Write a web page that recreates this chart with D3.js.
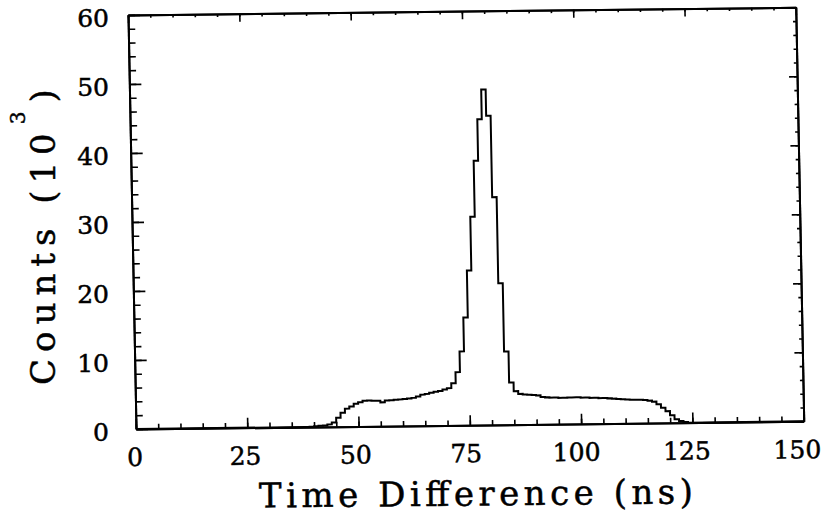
<!DOCTYPE html>
<html>
<head>
<meta charset="utf-8">
<script src="https://cdn.jsdelivr.net/npm/d3@7"></script>
<style>
  html, body { margin: 0; padding: 0; background: #fff; }
  svg { display: block; }
  text { font-family: "DejaVu Serif", "Liberation Serif", serif; fill: #000; stroke: #000; stroke-width: 0.5px; }
</style>
</head>
<body>
<svg id="chart" width="830" height="516"></svg>
<script>
// Time-difference histogram, 1 ns bins starting at binStart[i]; counts in units of 10^3
const binStart = d3.range(38, 125);
const binCounts = [
  0, 0.05, 0.1, 0.15, 0.2, 0.35, 0.6, 1.3, 2.0, 2.6,          // 38-47
  2.9, 3.3, 3.5, 3.7, 3.75, 3.7, 3.7, 3.45, 3.7, 3.75,        // 48-57
  3.8, 3.85, 3.9, 3.95, 4.05, 4.25, 4.5, 4.6, 4.75, 4.9,      // 58-67
  5.0, 5.2, 5.4, 6.1, 7.7, 10.7, 15.6, 22.4, 30.2, 38.3,      // 68-77
  44.3, 48.6, 44.8, 33.0, 20.5, 10.6, 6.1, 4.85, 4.45, 4.35,  // 78-87
  4.3, 4.25, 4.2, 3.95, 3.9, 3.85, 3.85, 3.8, 3.8, 3.85,      // 88-97
  3.85, 3.85, 3.8, 3.8, 3.75, 3.75, 3.7, 3.7, 3.65, 3.6,      // 98-107
  3.55, 3.5, 3.45, 3.4, 3.4, 3.4, 3.35, 3.25, 3.1, 2.7,       // 108-117
  2.2, 1.7, 1.1, 0.5, 0.25, 0.1, 0                            // 118-124
];
const xDomain = [0, 150];
const yDomain = [0, 60];
const xTicks = [0, 25, 50, 75, 100, 125, 150];
const yTicks = [0, 10, 20, 30, 40, 50, 60];
const xMinorStep = 5;
const yMinorStep = 2;
const xTitle = "Time Difference (ns)";
const yTitleParts = ["Counts (10", "3", ")"];

// Frame geometry: the plot box is slightly tilted/sheared on the page
const W = 668, H = 414;
const M = { a: 0.9996, b: -0.01153, c: 0.01932, d: 1, e: 128, f: 15 };
const toPage = (u, v) => [M.e + M.a * u + M.c * v, M.f + M.b * u + M.d * v];
const tilt = Math.atan2(M.b, M.a) * 180 / Math.PI;

const svg = d3.select("#chart");
const plot = svg.append("g")
  .attr("transform", `matrix(${M.a},${M.b},${M.c},${M.d},${M.e},${M.f})`);

const x = d3.scaleLinear().domain(xDomain).range([0, W]);
const y = d3.scaleLinear().domain(yDomain).range([H, 0]);

const xMinor = d3.range(xDomain[0], xDomain[1] + 0.001, xMinorStep);
const yMinor = d3.range(yDomain[0], yDomain[1] + 0.001, yMinorStep);

function styleAxis(sel) {
  sel.select(".domain").attr("stroke", "#000").attr("stroke-width", 2);
  sel.selectAll(".tick line").attr("stroke", "#000").attr("stroke-width", 1.6);
  sel.selectAll(".tick text").remove();
}

// Inward-pointing ticks on all four sides: minor then major
[[5, xMinor, yMinor], [10, xTicks, yTicks]].forEach(([len, xv, yv]) => {
  plot.append("g").attr("transform", `translate(0,${H})`)
    .call(d3.axisBottom(x).tickValues(xv).tickSize(-len).tickSizeOuter(0).tickFormat(""))
    .call(styleAxis);
  plot.append("g")
    .call(d3.axisTop(x).tickValues(xv).tickSize(-(len - 2)).tickSizeOuter(0).tickFormat(""))
    .call(styleAxis);
  plot.append("g")
    .call(d3.axisLeft(y).tickValues(yv).tickSize(-(len + 2)).tickSizeOuter(0).tickFormat(""))
    .call(styleAxis);
  plot.append("g").attr("transform", `translate(${W},0)`)
    .call(d3.axisRight(y).tickValues(yv).tickSize(-(len - 2)).tickSizeOuter(0).tickFormat(""))
    .call(styleAxis);
});

// Histogram outline
const pts = [[xDomain[0], 0]]
  .concat(binStart.map((s, i) => [s, binCounts[i]]))
  .concat([[xDomain[1], 0]]);
const line = d3.line()
  .x(d => x(d[0]))
  .y(d => y(d[1]))
  .curve(d3.curveStepAfter);
plot.append("path")
  .datum(pts)
  .attr("fill", "none")
  .attr("stroke", "#000")
  .attr("stroke-width", 2)
  .attr("stroke-linejoin", "miter")
  .attr("d", line);

// X tick labels
const xLab = d3.scaleLinear().domain(xDomain).range([-1.5, 661]);
svg.append("g").selectAll("text")
  .data(xTicks)
  .join("text")
  .each(function (d) {
    const [px, py] = toPage(xLab(d), H + 37);
    d3.select(this)
      .attr("x", px).attr("y", py)
      .attr("transform", `rotate(${tilt},${px},${py})`);
  })
  .attr("text-anchor", "middle")
  .attr("font-size", 25)
  .text(d => d);

// Y tick labels
svg.append("g").selectAll("text")
  .data(yTicks)
  .join("text")
  .attr("x", 109)
  .attr("y", d => toPage(0, y(d))[1] + 3)
  .attr("dy", "0.36em")
  .attr("text-anchor", "end")
  .attr("font-size", 25)
  .text(d => d);

// X axis title
svg.append("text")
  .attr("x", 476).attr("y", 505.5)
  .attr("transform", `rotate(${tilt * 0.8},476,505.5)`)
  .attr("text-anchor", "middle")
  .attr("font-size", 34)
  .attr("textLength", 434)
  .attr("lengthAdjust", "spacing")
  .text(xTitle);

// Y axis title with superscript exponent
const yt = svg.append("text")
  .attr("transform", "translate(55,385) rotate(-90)")
  .attr("text-anchor", "start")
  .attr("font-size", 34)
  .attr("letter-spacing", 7);
yt.append("tspan").text(yTitleParts[0]);
yt.append("tspan").attr("font-size", 20).attr("dy", -30).attr("dx", 2).text(yTitleParts[1]);
yt.append("tspan").attr("dy", 30).attr("dx", 2).text(yTitleParts[2]);
</script>
</body>
</html>
